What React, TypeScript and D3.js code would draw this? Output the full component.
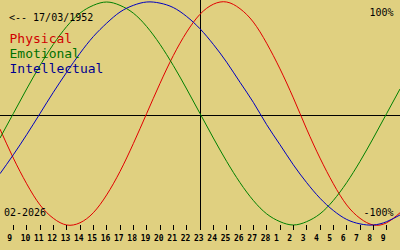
import React from "react";
import * as d3 from "d3";

// Days shown: 8 Feb 2026 (index 0) .. 10 Mar 2026 (index 30)
const tickLabels = [
  "9","10","11","12","13","14","15","16","17","18","19","20","21","22","23",
  "24","25","26","27","28","1","2","3","4","5","6","7","8","9",
];
const physical = [
  -14,-40,-63,-82,-94,-100,-98,-89,-73,-52,-27,0,27,52,73,89,98,100,94,82,63,40,14,-14,-40,-63,-82,-94,-100,-98,-89,
];
const emotional = [
  -22,0,22,43,62,78,90,97,100,97,90,78,62,43,22,0,-22,-43,-62,-78,-90,-97,-100,-97,-90,-78,-62,-43,-22,0,22,
];
const intellectual = [
  -54,-37,-19,0,19,37,54,69,81,91,97,100,99,95,87,76,62,46,28,10,-10,-28,-46,-62,-76,-87,-95,-99,-100,-97,-91,
];
const legend = ["Physical", "Emotional", "Intellectual"];
const birthLabel = "<-- 17/03/1952";
const monthLabel = "02-2026";
const topLabel = "100%";
const bottomLabel = "-100%";

const W = 400;
const H = 250;
const BG = "#e0d080";
const lineColors = ["#e00000", "#008000", "#0000c0"];
const textColors = ["#d00000", "#007000", "#000090"];

export default function App() {
  const x = d3.scaleLinear().domain([0, 30]).range([0, W]);
  const y = d3.scaleLinear().domain([-100, 100]).range([225, 2]);
  const line = d3
    .line<number>()
    .x((_, i) => x(i))
    .y((d) => y(d))
    .curve(d3.curveNatural);
  const series = [physical, emotional, intellectual];
  const mono = "'DejaVu Sans Mono', 'Liberation Mono', monospace";
  const px = (v: number) => Math.floor(v) + 0.5;

  return (
    <svg
      width={W}
      height={H}
      style={{ position: "absolute", left: 0, top: 0, display: "block" }}
    >
      <rect x={0} y={0} width={W} height={H} fill={BG} />
      {/* axes */}
      <line x1={0} x2={W} y1={115.5} y2={115.5} stroke="#000" strokeWidth={1} shapeRendering="crispEdges" />
      <line x1={px(x(15))} x2={px(x(15))} y1={0} y2={230} stroke="#000" strokeWidth={1} shapeRendering="crispEdges" />
      {/* curves */}
      {series.map((s, k) => (
        <path key={k} d={line(s) || ""} fill="none" stroke={lineColors[k]} strokeWidth={1} />
      ))}
      {/* ticks */}
      {tickLabels.map((t, i) => {
        const xx = x(i + 1);
        return (
          <g key={i}>
            <line x1={px(xx)} x2={px(xx)} y1={225} y2={230} stroke="#000" strokeWidth={1} shapeRendering="crispEdges" />
            <text x={xx - 6} y={241} fontFamily={mono} fontSize={8} fontWeight="bold" fill="#000">
              {t}
            </text>
          </g>
        );
      })}
      {/* labels */}
      <text x={9} y={21} fontFamily={mono} fontSize={10} fill="#000">{birthLabel}</text>
      {legend.map((l, k) => (
        <text key={l} x={9.5} y={43 + k * 15} fontFamily={mono} fontSize={13} fill={textColors[k]}>
          {l}
        </text>
      ))}
      <text x={393.5} y={16} textAnchor="end" fontFamily={mono} fontSize={10} fill="#000">{topLabel}</text>
      <text x={393.5} y={216} textAnchor="end" fontFamily={mono} fontSize={10} fill="#000">{bottomLabel}</text>
      <text x={4} y={216} fontFamily={mono} fontSize={10} fill="#000">{monthLabel}</text>
    </svg>
  );
}
